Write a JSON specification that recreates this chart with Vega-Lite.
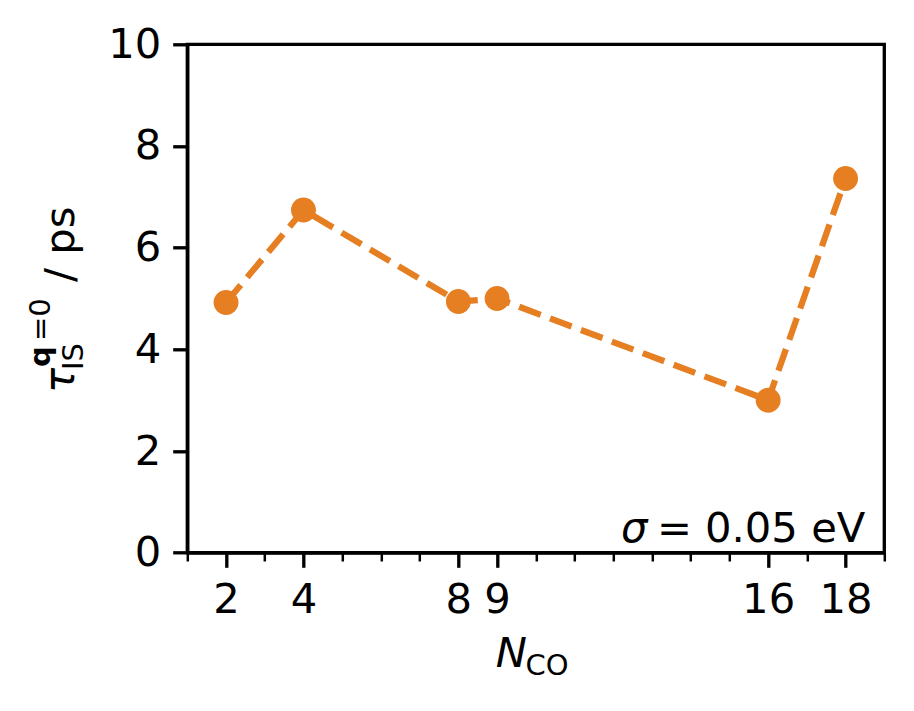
{
  "$schema": "https://vega.github.io/schema/vega-lite/v6.json",
  "width": 697,
  "height": 508.4,
  "autosize": "none",
  "padding": {"left": 187.3, "top": 44.3, "right": 29.7, "bottom": 158.3},
  "config": {
    "font": "DejaVu Sans",
    "view": {"stroke": "black", "strokeWidth": 3.33},
    "axis": {
      "grid": false,
      "domainColor": "black",
      "domainWidth": 3.33,
      "tickColor": "black",
      "tickWidth": 3.33,
      "tickSize": 14.6,
      "labelColor": "black",
      "labelFont": "DejaVu Sans",
      "labelFontSize": 41.7,
      "labelPadding": 12,
      "title": null
    }
  },
  "data": {
    "values": [
      {"N": 2, "tau": 4.92},
      {"N": 4, "tau": 6.74},
      {"N": 8, "tau": 4.94},
      {"N": 9, "tau": 5.0},
      {"N": 16, "tau": 3.0},
      {"N": 18, "tau": 7.36}
    ]
  },
  "resolve": {"axis": {"x": "independent", "y": "independent"}},
  "layer": [
    {
      "mark": {"type": "point", "opacity": 0},
      "encoding": {
        "x": {
          "field": "N", "type": "quantitative",
          "scale": {"domain": [1, 19], "nice": false, "zero": false},
          "axis": {"orient": "bottom", "values": [1, 3, 5, 6, 7, 10, 11, 12, 13, 14, 15, 17, 19], "labels": false, "domain": false, "tickSize": 8.3, "tickWidth": 2.5, "title": null}
        }
      }
    },
    {
      "mark": {"type": "line", "color": "#e67e22", "strokeWidth": 6.25, "strokeDash": [23, 10]},
      "encoding": {
        "x": {
          "field": "N", "type": "quantitative",
          "scale": {"domain": [1, 19], "nice": false, "zero": false},
          "axis": {"orient": "bottom", "values": [2, 4, 8, 9, 16, 18], "title": null}
        },
        "y": {
          "field": "tau", "type": "quantitative",
          "scale": {"domain": [0, 10], "nice": false, "zero": false},
          "axis": {"orient": "left", "values": [0, 2, 4, 6, 8, 10], "title": null}
        }
      }
    },
    {
      "mark": {"type": "point", "filled": true, "color": "#e67e22", "opacity": 1, "size": 620},
      "encoding": {
        "x": {"field": "N", "type": "quantitative", "axis": null},
        "y": {"field": "tau", "type": "quantitative", "axis": null}
      }
    },
    {
      "data": {"values": [{}]},
      "layer": [
        {"mark": {"type": "text", "text": "τ", "font": "DejaVu Sans", "fontStyle": "italic", "fontSize": 41.7, "angle": 270, "align": "left", "baseline": "alphabetic", "dx": -94.5, "dy": -113.3, "color": "black"}},
        {"mark": {"type": "text", "text": "IS", "font": "DejaVu Sans", "fontSize": 29, "angle": 270, "align": "left", "baseline": "alphabetic", "dx": -71.5, "dy": -104.3, "color": "black"}},
        {"mark": {"type": "text", "text": "q", "font": "DejaVu Sans", "fontWeight": "bold", "fontSize": 29, "angle": 270, "align": "left", "baseline": "alphabetic", "dx": -68.5, "dy": -137.3, "color": "black"}},
        {"mark": {"type": "text", "text": "=0", "font": "DejaVu Sans", "fontSize": 29, "angle": 270, "align": "left", "baseline": "alphabetic", "dx": -42.5, "dy": -137.3, "color": "black"}},
        {"mark": {"type": "text", "text": "/ ps", "font": "DejaVu Sans", "fontSize": 41.7, "angle": 270, "align": "left", "baseline": "alphabetic", "dx": 16.5, "dy": -113.3, "color": "black"}}
      ],
      "encoding": {
        "x": {"datum": 1, "type": "quantitative", "axis": null},
        "y": {"datum": 5, "type": "quantitative", "axis": null}
      }
    },
    {
      "data": {"values": [{}]},
      "layer": [
        {"mark": {"type": "text", "text": "N", "font": "DejaVu Sans", "fontStyle": "italic", "fontSize": 41.7, "align": "left", "baseline": "alphabetic", "dx": -40, "dy": 114.5, "color": "black"}},
        {"mark": {"type": "text", "text": "CO", "font": "DejaVu Sans", "fontSize": 29, "align": "left", "baseline": "alphabetic", "dx": -10.4, "dy": 122.3, "color": "black"}}
      ],
      "encoding": {
        "x": {"datum": 10, "type": "quantitative", "axis": null},
        "y": {"datum": 0, "type": "quantitative", "axis": null}
      }
    },
    {
      "data": {"values": [{}]},
      "layer": [
        {"mark": {"type": "text", "text": "σ", "font": "DejaVu Sans", "fontStyle": "italic", "fontSize": 41.7, "align": "right", "baseline": "alphabetic", "dx": -237, "dy": -10.7, "color": "black"}},
        {"mark": {"type": "text", "text": "= 0.05 eV", "font": "DejaVu Sans", "fontSize": 41.7, "align": "right", "baseline": "alphabetic", "dx": -19, "dy": -10.7, "color": "black"}}
      ],
      "encoding": {
        "x": {"datum": 19, "type": "quantitative", "axis": null},
        "y": {"datum": 0, "type": "quantitative", "axis": null}
      }
    }
  ]
}
